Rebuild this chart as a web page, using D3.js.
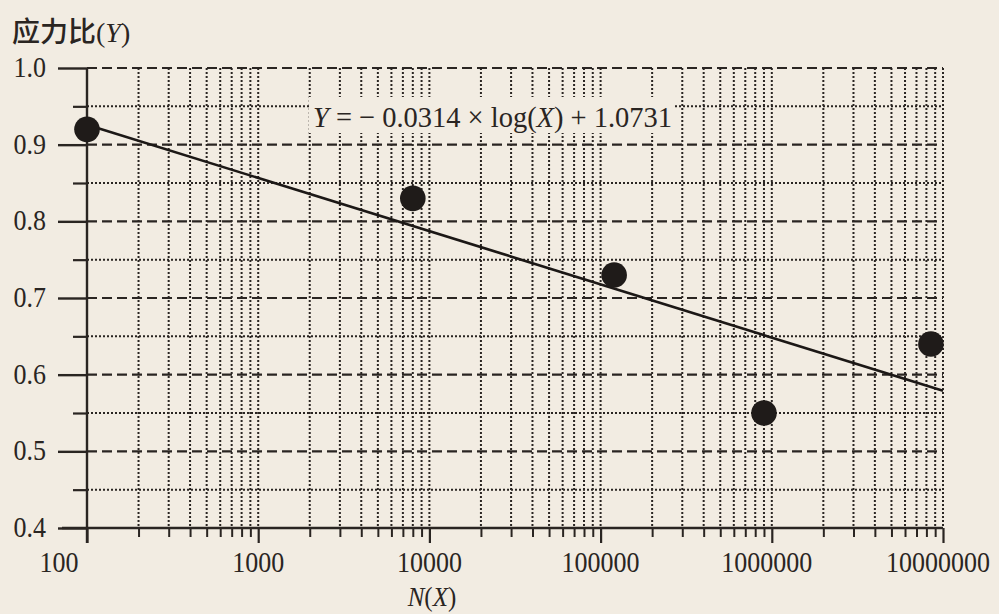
<!DOCTYPE html>
<html><head><meta charset="utf-8">
<script src="https://cdn.jsdelivr.net/npm/d3@7"></script>
<style>
html,body{margin:0;padding:0;background:#f2ece2;}
svg{display:block;}
</style></head>
<body>
<svg id="chart" width="999" height="614"></svg>
<script>
// ---- data ----
const pointsX = [100, 8000, 120000, 900000, 8500000];
const pointsY = [0.92, 0.83, 0.73, 0.55, 0.64];
const trendX = [100, 10000000];
const trendY = [0.926, 0.579];
const xTickValues = [100, 1000, 10000, 100000, 1000000, 10000000];
const xTickLabels = ["100", "1000", "10000", "100000", "1000000", "10000000"];
const yTickValues = [0.4, 0.5, 0.6, 0.7, 0.8, 0.9, 1.0];
const yTickLabels = ["0.4", "0.5", "0.6", "0.7", "0.8", "0.9", "1.0"];
const yMinorValues = [0.45, 0.55, 0.65, 0.75, 0.85, 0.95];
const equationText = ["Y", " = \u2212 0.0314 \u00d7 log(", "X", ") + 1.0731"];
const yTitle = ["应力比", "(", "Y", ")"];
const xTitle = ["N", "(", "X", ")"];

// ---- layout ----
const svg = d3.select("#chart");
const ink = "#2a2522";
const serif = "'Liberation Serif','Times New Roman',serif";
const pLeft = 87, pRight = 943, pTop = 68, pBottom = 528;

const x = d3.scaleLog().domain([100, 10000000]).range([pLeft, pRight]);
const y = d3.scaleLinear().domain([0.4, 1.0]).range([pBottom, pTop]);

svg.append("rect").attr("width", 999).attr("height", 614).attr("fill", "#f2ece2");

// minor x values (2..9 per decade)
const xMinor = [];
for (let d = 2; d <= 6; d++) {
  for (let m = 2; m <= 9; m++) xMinor.push(m * Math.pow(10, d));
}

const grid = svg.append("g");
grid.selectAll("line.vg").data(xMinor.concat(xTickValues.slice(1)))
  .join("line")
  .attr("x1", d => x(d)).attr("x2", d => x(d))
  .attr("y1", pTop).attr("y2", pBottom)
  .attr("stroke", ink).attr("stroke-width", 2)
  .attr("stroke-dasharray", "2,2");
grid.selectAll("line.hm").data(yMinorValues)
  .join("line")
  .attr("x1", pLeft).attr("x2", pRight)
  .attr("y1", d => y(d)).attr("y2", d => y(d))
  .attr("stroke", ink).attr("stroke-width", 2)
  .attr("stroke-dasharray", "2,2");
grid.selectAll("line.hM").data(yTickValues.slice(1))
  .join("line")
  .attr("x1", pLeft).attr("x2", pRight)
  .attr("y1", d => y(d)).attr("y2", d => y(d))
  .attr("stroke", ink).attr("stroke-width", 2.2)
  .attr("stroke-dasharray", "10,5");

// axes
const xAxis = d3.axisBottom(x).tickValues(xTickValues).tickSize(15).tickFormat("");
const gx = svg.append("g").attr("transform", `translate(0,${pBottom})`).call(xAxis);
gx.select(".domain").remove();
gx.selectAll(".tick line").attr("stroke", ink).attr("stroke-width", 2.2);
const xAxisMinor = d3.axisBottom(x).tickValues(xMinor).tickSize(9).tickFormat("");
const gxm = svg.append("g").attr("transform", `translate(0,${pBottom})`).call(xAxisMinor);
gxm.select(".domain").remove();
gxm.selectAll(".tick line").attr("stroke", ink).attr("stroke-width", 2);

const yAxis = d3.axisLeft(y).tickValues(yTickValues).tickSize(29).tickFormat("");
const gy = svg.append("g").attr("transform", `translate(${pLeft},0)`).call(yAxis);
gy.select(".domain").remove();
gy.selectAll(".tick line").attr("stroke", ink).attr("stroke-width", 2.4);
const yAxisMinor = d3.axisLeft(y).tickValues(yMinorValues).tickSize(14).tickFormat("");
const gym = svg.append("g").attr("transform", `translate(${pLeft},0)`).call(yAxisMinor);
gym.select(".domain").remove();
gym.selectAll(".tick line").attr("stroke", ink).attr("stroke-width", 2.2);

svg.append("line").attr("x1", pLeft).attr("x2", pLeft).attr("y1", pTop).attr("y2", pBottom + 15)
  .attr("stroke", ink).attr("stroke-width", 2.4);
svg.append("line").attr("x1", pLeft - 25).attr("x2", pRight).attr("y1", pBottom).attr("y2", pBottom)
  .attr("stroke", ink).attr("stroke-width", 2.4);

// tick labels
const tickTxt = svg.append("g").attr("font-family", serif).attr("font-size", 26).attr("fill", ink);
tickTxt.selectAll("text.xl").data(xTickValues)
  .join("text")
  .attr("text-anchor", "middle")
  .attr("transform", (d, i) => `translate(${x(d) - (i === 0 ? 28 : (i >= 4 ? 5 : 0))},572) scale(1,1.15)`)
  .text((d, i) => xTickLabels[i]);
tickTxt.selectAll("text.yl").data(yTickValues)
  .join("text")
  .attr("text-anchor", "end")
  .attr("transform", d => `translate(46,${y(d) + 9}) scale(1,1.15)`)
  .text((d, i) => yTickLabels[i]);

// trend line
const line = d3.line().x(d => x(d[0])).y(d => y(d[1]));
svg.append("path").datum(trendX.map((v, i) => [v, trendY[i]]))
  .attr("d", line).attr("fill", "none").attr("stroke", "#1c1816").attr("stroke-width", 2.6);

// equation with background
const eqG = svg.append("g");
eqG.append("rect").attr("x", 309).attr("y", 97).attr("width", 366).attr("height", 36).attr("fill", "#f2ece2");
const eq = eqG.append("text")
  .attr("transform", "translate(313,127) scale(1,1.05)")
  .attr("font-family", serif).attr("font-size", 28).attr("fill", ink)
  .attr("textLength", 359).attr("lengthAdjust", "spacingAndGlyphs");
equationText.forEach((t, i) => {
  eq.append("tspan").attr("font-style", (i === 0 || i === 2) ? "italic" : "normal").text(t);
});

// points
svg.selectAll("circle.pt").data(pointsX)
  .join("circle")
  .attr("cx", d => x(d)).attr("cy", (d, i) => y(pointsY[i]))
  .attr("r", 12.8).attr("fill", "#1f1b19");

// titles
const yt = svg.append("text").attr("x", 12).attr("y", 42).attr("fill", ink).attr("font-size", 28);
yt.append("tspan").attr("font-family", "'Noto Sans CJK SC',sans-serif").attr("font-weight", 500).text(yTitle[0]);
yt.append("tspan").attr("font-family", serif).text(yTitle[1]);
yt.append("tspan").attr("font-family", serif).attr("font-style", "italic").text(yTitle[2]);
yt.append("tspan").attr("font-family", serif).text(yTitle[3]);

const xt = svg.append("text").attr("text-anchor", "middle")
  .attr("transform", "translate(432,606) scale(1,1.08)")
  .attr("font-family", serif).attr("font-size", 25).attr("fill", ink);
xTitle.forEach((t, i) => {
  xt.append("tspan").attr("font-style", (i === 0 || i === 2) ? "italic" : "normal").text(t);
});
</script>
</body></html>
